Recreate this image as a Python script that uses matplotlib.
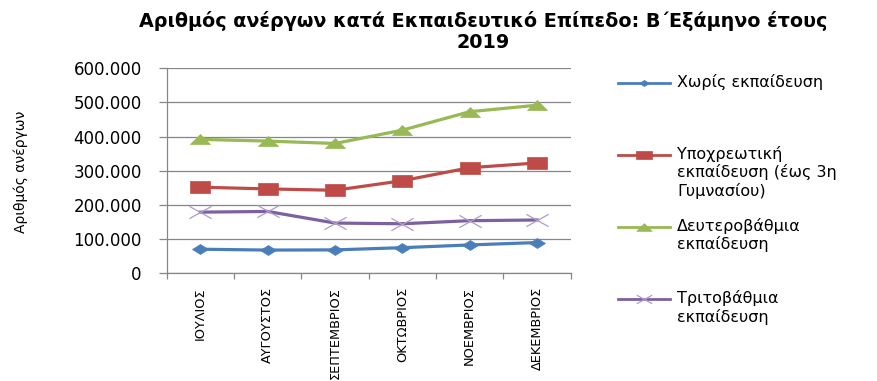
import matplotlib
matplotlib.use("Agg")
import matplotlib.pyplot as plt
from matplotlib.path import Path
from matplotlib.lines import Line2D
from matplotlib.ticker import FuncFormatter, FixedLocator
import numpy as np

months = ["ΙΟΥΛΙΟΣ", "ΑΥΓΟΥΣΤΟΣ", "ΣΕΠΤΕΜΒΡΙΟΣ", "ΟΚΤΩΒΡΙΟΣ", "ΝΟΕΜΒΡΙΟΣ", "ΔΕΚΕΜΒΡΙΟΣ"]
no_education = [70500, 68000, 68500, 75000, 83000, 90000]
compulsory = [252000, 247000, 243000, 271000, 309000, 323000]
secondary = [392000, 387000, 380000, 419000, 473000, 492000]
tertiary = [179000, 181000, 147000, 145000, 154000, 156000]

series_labels = [
    "Χωρίς εκπαίδευση",
    "Υποχρεωτική\nεκπαίδευση (έως 3η\nΓυμνασίου)",
    "Δευτεροβάθμια\nεκπαίδευση",
    "Τριτοβάθμια\nεκπαίδευση",
]
title = "Αριθμός ανέργων κατά Εκπαιδευτικό Επίπεδο: Β΄Εξάμηνο έτους\n2019"
ylabel = "Αριθμός ανέργων"

# wide marker shapes
diamond = Path([(-1.6, 0), (0, 1), (1.6, 0), (0, -1), (-1.6, 0)],
               [Path.MOVETO, Path.LINETO, Path.LINETO, Path.LINETO, Path.CLOSEPOLY])
square = Path([(-1.8, -1), (1.8, -1), (1.8, 1), (-1.8, 1), (-1.8, -1)],
              [Path.MOVETO, Path.LINETO, Path.LINETO, Path.LINETO, Path.CLOSEPOLY])
triangle = Path([(-2, -1), (2, -1), (0, 1), (-2, -1)],
                [Path.MOVETO, Path.LINETO, Path.LINETO, Path.CLOSEPOLY])
cross = Path([(-1.8, -1), (1.8, 1), (-1.8, 1), (1.8, -1)],
             [Path.MOVETO, Path.LINETO, Path.MOVETO, Path.LINETO])

colors = ["#4A7EBB", "#BE4B48", "#98B954", "#7D60A0"]
styles = [
    dict(marker=diamond, ms=11.5, mfc=colors[0], mec=colors[0], mew=0.5),
    dict(marker=square, ms=14.5, mfc=colors[1], mec=colors[1], mew=0.5),
    dict(marker=triangle, ms=14.5, mfc=colors[2], mec=colors[2], mew=0.5),
    dict(marker=cross, ms=16, mfc="none", mec="#AE9CC9", mew=0.9),
]
legend_styles = [
    dict(marker=diamond, ms=7, mfc=colors[0], mec=colors[0], mew=0.5),
    dict(marker=square, ms=11, mfc=colors[1], mec=colors[1], mew=0.5),
    dict(marker=triangle, ms=11, mfc=colors[2], mec=colors[2], mew=0.5),
    dict(marker=cross, ms=11, mfc="none", mec="#AE9CC9", mew=0.9),
]

grid_color = "#868686"

fig = plt.figure(figsize=(8.77, 3.81), dpi=100)
W, H = 877, 381
ax = fig.add_axes([166.7 / W, 1 - 273.3 / H, (570.7 - 166.7) / W, (273.3 - 68.3) / H])

x = np.arange(len(months))
for vals, st, c in zip([no_education, compulsory, secondary, tertiary], styles, colors):
    ax.plot(x, vals, color=c, lw=2.3, zorder=3, **st)

ax.set_xlim(-0.5, len(months) - 0.5)
ax.set_ylim(0, 600000)
ax.set_yticks(np.arange(0, 600001, 100000))
ax.yaxis.set_major_formatter(FuncFormatter(lambda v, p: f"{v:,.0f}".replace(",", ".")))
ax.grid(axis="y", color=grid_color, lw=0.9)
ax.set_axisbelow(True)
for s in ["top", "right"]:
    ax.spines[s].set_visible(False)
for s in ["left", "bottom"]:
    ax.spines[s].set_color(grid_color)
    ax.spines[s].set_linewidth(0.9)

ax.set_xticks(x)
ax.set_xticklabels(months, rotation=90, fontfamily="DejaVu Sans", fontsize=9.3)
ax.xaxis.set_minor_locator(FixedLocator(np.arange(-0.5, len(months), 1.0)))
ax.tick_params(axis="x", which="major", length=0, pad=10)
ax.tick_params(axis="x", which="minor", length=4.5, color=grid_color, width=0.9)
ax.tick_params(axis="y", length=6, color=grid_color, width=0.9, pad=12, labelsize=12)
for lab in ax.get_yticklabels():
    lab.set_fontfamily("DejaVu Sans")

fig.text(21 / W, 1 - 172 / H, ylabel, rotation=90, ha="center", va="center",
         fontfamily="DejaVu Sans", fontsize=10)

fig.text(483 / W, 1 - 11 / H, title, ha="center", va="top", fontsize=13.8,
         fontweight="bold", fontfamily="DejaVu Sans", linespacing=1.12)

# legend
leg_y = [82.7, 155, 226.7, 299.3]
for yc, lab, st, c in zip(leg_y, series_labels, legend_styles, colors):
    yf = 1 - yc / H
    fig.add_artist(Line2D([618 / W, 670 / W], [yf, yf], color=c, lw=2.0,
                          transform=fig.transFigure))
    fig.add_artist(Line2D([644 / W], [yf], color=c, lw=0, transform=fig.transFigure, **st))
    fig.text(677 / W, 1 - (yc - 9) / H, lab, ha="left", va="top", fontsize=11.5,
             fontfamily="DejaVu Sans", linespacing=1.18)

fig.savefig("out.png", dpi=100)
